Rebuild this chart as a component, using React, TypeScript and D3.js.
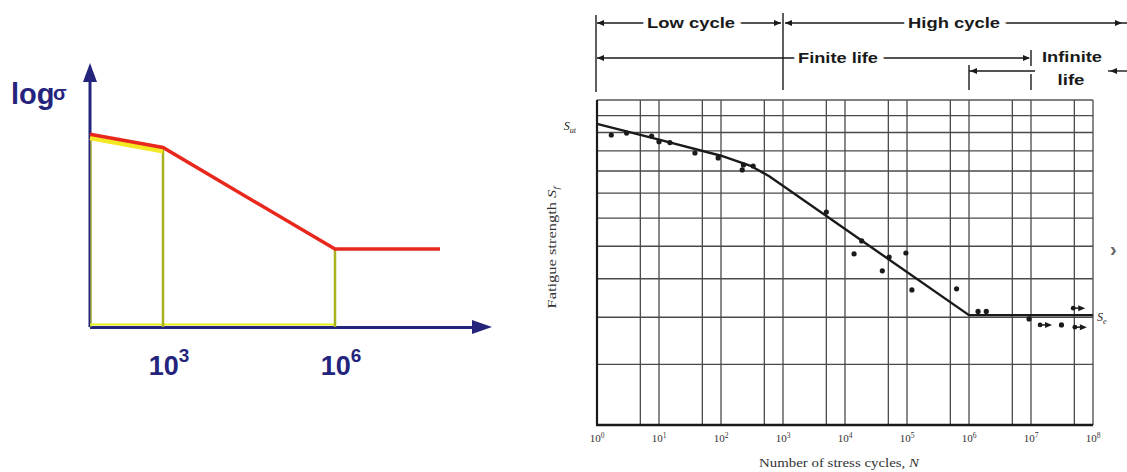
import React from "react";
import * as d3 from "d3";

// ---------- left sketch: log(sigma) vs log(N), schematic ----------
const sketchExp = [0, 3, 6, 8]; // log10 N at break points
const sketchLogS = [7.3, 6.8, 2.95, 2.95];
const sketchTicks = [3, 6];

// ---------- right chart: S-N test data ----------
const curveN = [1, 10, 100, 300, 600, 1e6, 1e8];
const curveS = [125, 116, 107.5, 102.5, 97.5, 50.5, 50.5];

const testN = [1.7, 3, 7.6, 10, 15, 38, 90, 220, 230, 330, 5000, 14000, 18600, 40000, 51500, 96000, 120000, 630000, 1.4e6, 1.9e6, 9.3e6, 3.1e7];
const testS = [118.6, 119.7, 118, 114.9, 114.4, 108.9, 106.4, 100.5, 102.9, 102.4, 82.3, 67.5, 71.8, 62.3, 66.5, 67.8, 56.9, 57.2, 51.4, 51.4, 49.6, 48.2];

// run-outs (did not fail)
const runoutN = [1.4e7, 5.1e7, 4.8e7];
const runoutS = [48.2, 47.7, 52.2];

const decades = [0, 1, 2, 3, 4, 5, 6, 7, 8];
const stressGrid = [40, 50, 60, 70, 80, 90, 100, 110, 120, 130];

const navy = "#24247c";
const ink = "#1a1a1a";

const Arrow = ({ x, y, dir }: { x: number; y: number; dir: number }) => (
  <path d={`M${x},${y} l${-7 * dir},-3 l0,6 z`} fill={ink} />
);

const App = () => {
  // left scales (the sketch is not a true log axis: piecewise linear)
  const xL = d3.scaleLinear().domain(sketchExp).range([90, 163, 335, 440]);
  const yL = d3.scaleLinear().domain([0, 10]).range([327, 63]);
  const sketchPts = sketchExp.map((e, i) => [xL(e), yL(sketchLogS[i])] as [number, number]);
  const sketchLine = d3.line();

  // right scales
  const xR = d3.scaleLog().domain([1, 1e8]).range([597, 1093]);
  const yR = d3.scaleLog().domain([30, 140]).range([425, 100]);
  const [top, bottom] = [yR(140), yR(30)];
  const [left, right] = [xR(1), xR(1e8)];

  const vGrid: number[] = [];
  decades.forEach((k) => {
    vGrid.push(Math.pow(10, k));
    if (k < 8) vGrid.push(5 * Math.pow(10, k));
  });

  const snLine = d3
    .line<number>()
    .x((n) => xR(n))
    .y((n, i) => yR(curveS[i]));

  const b3 = xR(1e3);
  const b6 = xR(1e6);
  const b7 = xR(1e7);

  const bold = { fontFamily: "Liberation Sans, Arial, sans-serif", fontWeight: 700 };
  const serif = { fontFamily: "Liberation Serif, Times New Roman, serif" };
  const gap = { stroke: "white", strokeWidth: 8, paintOrder: "stroke" as const };
  const fit = "spacingAndGlyphs";

  return (
    <svg width={1127} height={472} style={{ position: "absolute", left: 0, top: 0, background: "white" }}>
      {/* ===== left sketch ===== */}
      <g>
        {/* axes */}
        <line x1={90} y1={yL(0)} x2={90} y2={yL(9.3)} stroke={navy} strokeWidth={3} />
        <path d={`M90,${yL(10)} l-7,19 l14,0 z`} fill={navy} />
        <line x1={90} y1={yL(0) + 0.5} x2={xL(8) + 32} y2={yL(0) + 0.5} stroke={navy} strokeWidth={3} />
        <path d={`M${xL(8) + 52},${yL(0)} l-20,-7 l0,14 z`} fill={navy} />

        {/* yellow helpers */}
        <line x1={91} y1={yL(sketchLogS[0]) + 4} x2={91} y2={yL(0)} stroke="#d6e020" strokeWidth={2} opacity={0.55} />
        <line x1={90} y1={yL(0) - 2.5} x2={xL(6)} y2={yL(0) - 2.5} stroke="#e4f01c" strokeWidth={2} />
        {sketchTicks.map((e) => (
          <line
            key={e}
            x1={xL(e)}
            x2={xL(e)}
            y1={yL(sketchLogS[sketchExp.indexOf(e)])}
            y2={yL(0)}
            stroke="#a8b21e"
            strokeWidth={2.5}
          />
        ))}
        <path
          d={sketchLine(sketchPts.slice(0, 2)) || ""}
          transform="translate(0,3.5)"
          fill="none"
          stroke="#f4e824"
          strokeWidth={5}
        />
        <path d={sketchLine(sketchPts) || ""} fill="none" stroke="#e8281c" strokeWidth={3.5} />

        {/* labels */}
        <text x={11} y={104} fill={navy} fontSize={29} style={bold}>
          log
        </text>
        <text x={53} y={100} fill={navy} fontSize={20} style={bold}>
          σ
        </text>
        {sketchTicks.map((e) => (
          <text key={e} x={xL(e) + 6} y={375} textAnchor="middle" fill={navy} style={bold}>
            <tspan fontSize={27}>10</tspan>
            <tspan fontSize={19} dy={-13}>
              {e}
            </tspan>
          </text>
        ))}
      </g>

      {/* ===== right S-N chart ===== */}
      <g>
        {/* grid */}
        {vGrid.map((n) => (
          <line key={"v" + n} x1={xR(n)} x2={xR(n)} y1={top} y2={bottom} stroke="#4a4a4a" strokeWidth={1.3} />
        ))}
        {stressGrid.map((s) => (
          <line key={"h" + s} x1={left} x2={right} y1={yR(s)} y2={yR(s)} stroke="#4a4a4a" strokeWidth={1.3} />
        ))}
        <line x1={left} x2={right} y1={top} y2={top} stroke="#555" strokeWidth={1.3} />
        <line x1={left} x2={left} y1={top} y2={bottom} stroke={ink} strokeWidth={2.2} />
        <line x1={left - 1} x2={right} y1={bottom} y2={bottom} stroke={ink} strokeWidth={2.4} />

        {/* fitted S-N line */}
        <path d={snLine(curveN) || ""} fill="none" stroke={ink} strokeWidth={2.4} />

        {/* test points */}
        {testN.map((n, i) => (
          <circle key={"p" + i} cx={xR(n)} cy={yR(testS[i])} r={2.6} fill={ink} />
        ))}
        {runoutN.map((n, i) => {
          const x = xR(n);
          const y = yR(runoutS[i]);
          return (
            <g key={"r" + i}>
              <circle cx={x} cy={y} r={2.4} fill={ink} />
              <line x1={x} x2={x + 9} y1={y} y2={y} stroke={ink} strokeWidth={1.5} />
              <Arrow x={x + 12} y={y} dir={1} />
            </g>
          );
        })}

        {/* x tick labels */}
        {decades.map((k) => (
          <text key={"t" + k} x={xR(Math.pow(10, k))} y={442} textAnchor="middle" fill="#333" style={serif}>
            <tspan fontSize={11}>10</tspan>
            <tspan fontSize={7.5} dy={-4}>
              {k}
            </tspan>
          </text>
        ))}
        <text
          x={(left + right) / 2 - 6}
          y={467}
          textAnchor="middle"
          fontSize={12}
          fill="#333"
          style={serif}
          textLength={160}
          lengthAdjust={fit}
        >
          Number of stress cycles, <tspan fontStyle="italic">N</tspan>
        </text>
        <text
          transform={`translate(556,${(top + bottom) / 2 - 15}) rotate(-90)`}
          textAnchor="middle"
          fontSize={11.5}
          fill="#333"
          style={serif}
          textLength={122}
          lengthAdjust={fit}
        >
          Fatigue strength <tspan fontStyle="italic">S</tspan>
          <tspan fontSize={8} dy={3} fontStyle="italic">f</tspan>
        </text>
        <text x={576} y={130} textAnchor="end" fill="#222" style={serif} fontStyle="italic">
          <tspan fontSize={12}>S</tspan>
          <tspan fontSize={8} dy={3}>ut</tspan>
        </text>
        <text x={1097} y={321} fill="#222" style={serif} fontStyle="italic">
          <tspan fontSize={12}>S</tspan>
          <tspan fontSize={8} dy={3}>e</tspan>
        </text>
        <text x={1110} y={256} fontSize={20} fill="#666" style={bold}>
          ›
        </text>

        {/* life regime annotations */}
        <g stroke={ink} strokeWidth={1.4}>
          <line x1={left - 1} x2={left - 1} y1={15} y2={92} />
          <line x1={b3} x2={b3} y1={13} y2={90} />
          <line x1={b6} x2={b6} y1={65} y2={90} />
          <line x1={b7} x2={b7} y1={50} y2={66} />
          <line x1={b7} x2={b7} y1={74} y2={90} />
          <line x1={left} x2={b3 - 2} y1={23} y2={23} />
          <line x1={b3 + 2} x2={1127} y1={23} y2={23} />
          <line x1={left} x2={b7 - 2} y1={58} y2={58} />
          <line x1={b6} x2={b7 + 4} y1={71} y2={71} />
          <line x1={1108} x2={1127} y1={71} y2={71} />
        </g>
        <Arrow x={left} y={23} dir={-1} />
        <Arrow x={b3 - 2} y={23} dir={1} />
        <Arrow x={b3 + 2} y={23} dir={-1} />
        <Arrow x={1122} y={23} dir={1} />
        <Arrow x={left} y={58} dir={-1} />
        <Arrow x={b7 - 1} y={58} dir={1} />
        <Arrow x={b6 + 1} y={71} dir={-1} />
        <Arrow x={1110} y={71} dir={-1} />

        <g fontSize={15} fill={ink} style={bold}>
          <text x={691} y={28} textAnchor="middle" textLength={88} lengthAdjust={fit} {...gap}>
            Low cycle
          </text>
          <text x={954} y={28} textAnchor="middle" textLength={92} lengthAdjust={fit} {...gap}>
            High cycle
          </text>
          <text x={838} y={63} textAnchor="middle" textLength={80} lengthAdjust={fit} {...gap}>
            Finite life
          </text>
          <text x={1072} y={62} textAnchor="middle" textLength={60} lengthAdjust={fit}>
            Infinite
          </text>
          <text x={1071} y={85} textAnchor="middle" textLength={27} lengthAdjust={fit}>
            life
          </text>
        </g>
      </g>
    </svg>
  );
};

export default App;
